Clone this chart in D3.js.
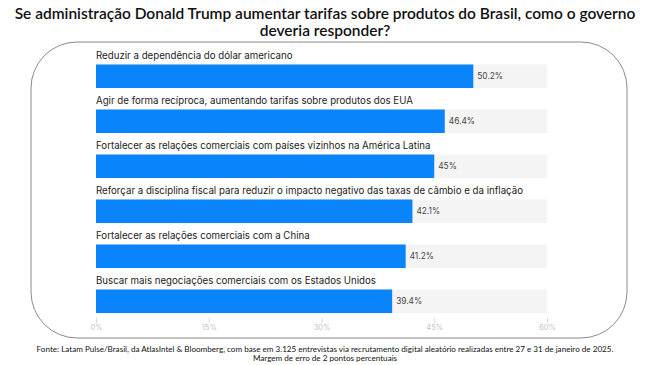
<!DOCTYPE html>
<html><head><meta charset="utf-8">
<script src="https://cdn.jsdelivr.net/npm/d3@7"></script>
<style>body{margin:0;background:#fff}svg{display:block}</style>
</head><body>
<script>
const categories = [
  "Reduzir a dependência do dólar americano",
  "Agir de forma recíproca, aumentando tarifas sobre produtos dos EUA",
  "Fortalecer as relações comerciais com países vizinhos na América Latina",
  "Reforçar a disciplina fiscal para reduzir o impacto negativo das taxas de câmbio e da inflação",
  "Fortalecer as relações comerciais com a China",
  "Buscar mais negociações comerciais com os Estados Unidos"
];
const values = [50.2, 46.4, 45, 42.1, 41.2, 39.4];
const valueLabels = ["50.2%", "46.4%", "45%", "42.1%", "41.2%", "39.4%"];
const tickValues = [0, 15, 30, 45, 60];
const tickLabels = ["0%", "15%", "30%", "45%", "60%"];
const titleLines = ["Se administração Donald Trump aumentar tarifas sobre produtos do Brasil, como o governo", "deveria responder?"];
const footLines = ["Fonte: Latam Pulse/Brasil, da AtlasIntel & Bloomberg, com base em 3.125 entrevistas via recrutamento digital aleatório realizadas entre 27 e 31 de janeiro de 2025.", "Margem de erro de 2 pontos percentuais"];

const W = 650, H = 365;
const svg = d3.select("body").append("svg").attr("width", W).attr("height", H);

// frame
svg.append("rect").attr("x", 31).attr("y", 42).attr("width", 596).attr("height", 296)
  .attr("rx", 46).attr("ry", 46).attr("fill", "none").attr("stroke", "#8a8a8a").attr("stroke-width", 1);

// title
svg.append("g").selectAll("text").data(titleLines).join("text")
  .attr("x", 325).attr("y", (d, i) => 19 + i * 17)
  .attr("text-anchor", "middle").attr("font-family", "Lato, sans-serif").attr("font-weight", 600)
  .attr("font-size", 15.5).attr("fill", "#111").text(d => d);

const x = d3.scaleLinear().domain([0, 60]).range([96, 547]);
const y = d3.scaleBand().domain(categories).range([54, 324]).paddingInner(0).paddingOuter(0);
const barH = 23.5;
const barOff = 10.5;

const rows = svg.append("g").selectAll("g").data(categories).join("g");
rows.append("rect").attr("x", x(0)).attr("y", d => y(d) + barOff)
  .attr("width", x(60) - x(0)).attr("height", barH).attr("fill", "#f4f4f4");
rows.append("rect").attr("x", x(0)).attr("y", d => y(d) + barOff)
  .attr("width", (d, i) => x(values[i]) - x(0)).attr("height", barH).attr("fill", "#0a84fa");
rows.append("text").attr("x", x(0)).attr("y", d => y(d) + 5)
  .attr("font-family", "Inter, sans-serif").attr("font-size", 9.7).attr("fill", "#222").text(d => d);
rows.append("text").attr("x", (d, i) => x(values[i]) + 4).attr("y", d => y(d) + barOff + barH / 2 + 3)
  .attr("font-family", "Inter, sans-serif").attr("font-size", 8.3).attr("fill", "#444").text((d, i) => valueLabels[i]);

// axis
const axis = d3.axisBottom(x).tickValues(tickValues).tickFormat((d, i) => tickLabels[i]).tickSize(5).tickPadding(2);
const ag = svg.append("g").attr("transform", "translate(0,318)").call(axis);
ag.select(".domain").remove();
ag.selectAll("line").attr("stroke", "#d8d8d8");
ag.selectAll("text").attr("font-family", "Inter, sans-serif").attr("font-size", 7.5).attr("fill", "#c4c4c4");

// footnote
svg.append("g").selectAll("text").data(footLines).join("text")
  .attr("x", 325).attr("y", (d, i) => 351.5 + i * 9.5)
  .attr("text-anchor", "middle").attr("font-family", "Lato, sans-serif").attr("font-size", 8.1)
  .attr("fill", "#111").text(d => d);
</script>
</body></html>
